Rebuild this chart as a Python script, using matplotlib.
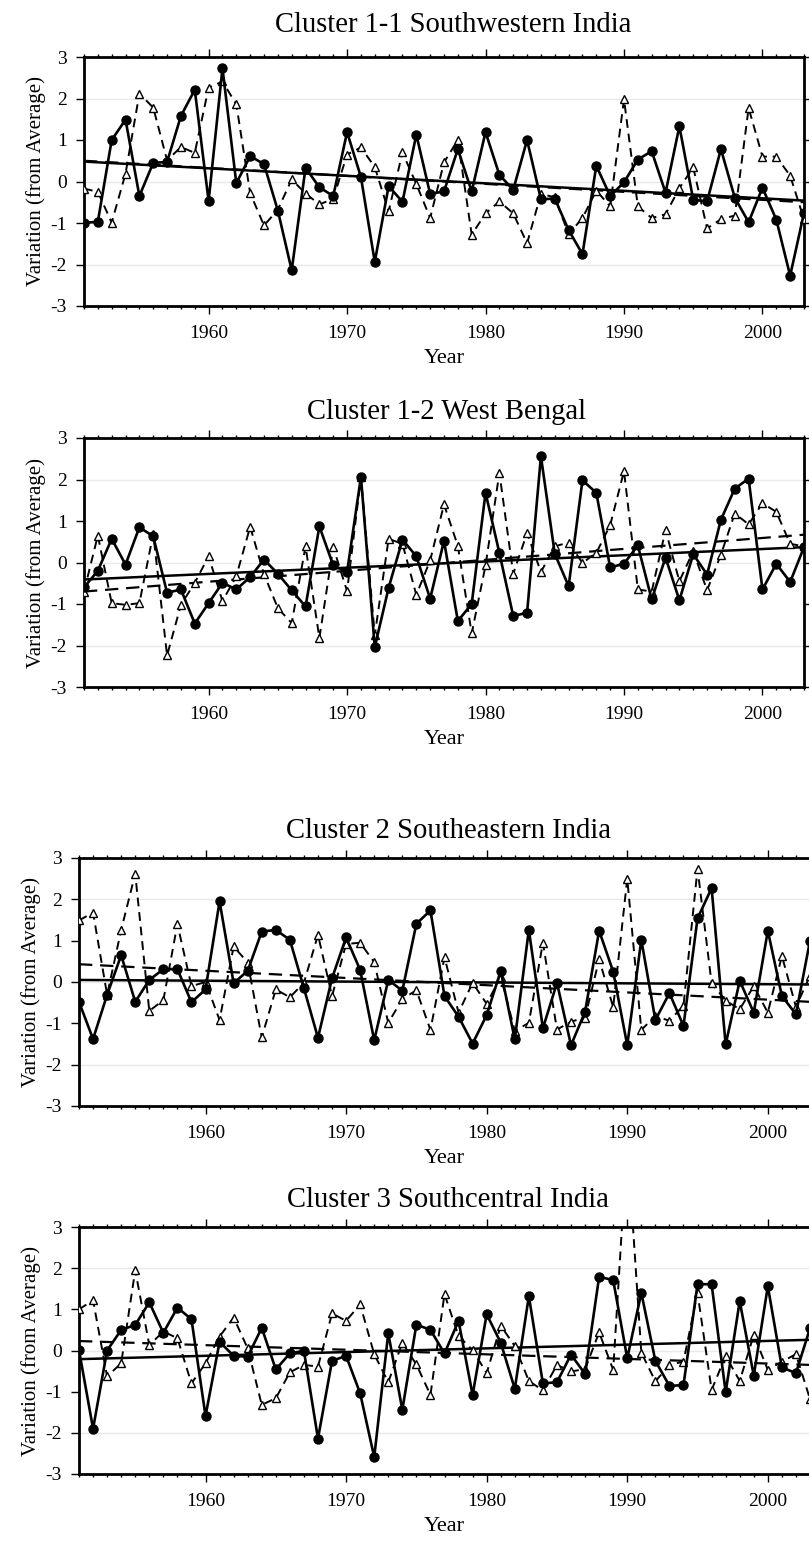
import numpy as np
import matplotlib
matplotlib.use('Agg')
import matplotlib.pyplot as plt
from matplotlib.ticker import MultipleLocator
plt.rcParams['font.family'] = 'Liberation Serif'
plt.rcParams['axes.unicode_minus'] = False

years = np.arange(1951, 2004)

titles = ["Cluster 1-1 Southwestern India",
          "Cluster 1-2 West Bengal",
          "Cluster 2 Southeastern India",
          "Cluster 3 Southcentral India"]

# solid series (filled circles)
c11_solid = [-1.0, -0.97, 1.0, 1.49, -0.35, 0.45, 0.47, 1.58, 2.21, -0.47,
             2.73, -0.04, 0.61, 0.42, -0.7, -2.14, 0.33, -0.14, -0.35, 1.19,
             0.11, -1.94, -0.11, -0.49, 1.13, -0.3, -0.24, 0.78, -0.24, 1.19,
             0.16, -0.2, 1.0, -0.43, -0.41, -1.17, -1.75, 0.38, -0.35, -0.02,
             0.53, 0.73, -0.27, 1.33, -0.44, -0.48, 0.78, -0.39, -0.98, -0.15,
             -0.92, -2.27, -0.76]
c12_solid = [-0.6, -0.2, 0.57, -0.05, 0.85, 0.63, -0.73, -0.65, -1.47, -0.98,
             -0.49, -0.65, -0.35, 0.07, -0.27, -0.67, -1.06, 0.87, -0.07, -0.23,
             2.06, -2.04, -0.61, 0.55, 0.15, -0.87, 0.52, -1.41, -1.0, 1.68,
             0.23, -1.29, -1.21, 2.56, 0.21, -0.57, 1.98, 1.68, -0.12, -0.03,
             0.41, -0.89, 0.12, -0.91, 0.2, -0.29, 1.03, 1.78, 2.02, -0.65,
             -0.03, -0.47, 0.37]
c2_solid = [-0.48, -1.38, -0.31, 0.65, -0.48, 0.05, 0.31, 0.31, -0.49, -0.18,
            1.95, -0.03, 0.27, 1.22, 1.26, 1.02, -0.15, -1.35, 0.09, 1.08,
            0.29, -1.41, 0.05, -0.21, 1.41, 1.73, -0.34, -0.84, -1.49, -0.8,
            0.27, -1.39, 1.26, -1.12, -0.02, -1.53, -0.72, 1.24, 0.25, -1.53,
            1.02, -0.92, -0.27, -1.06, 1.54, 2.27, -1.51, 0.03, -0.74, 1.24,
            -0.34, -0.78, 1.0]
c3_solid = [0.01, -1.9, 0.0, 0.5, 0.62, 1.17, 0.43, 1.04, 0.76, -1.59,
            0.21, -0.13, -0.15, 0.55, -0.46, -0.07, -0.01, -2.14, -0.25, -0.13,
            -1.04, -2.59, 0.42, -1.44, 0.63, 0.5, -0.07, 0.72, -1.08, 0.88,
            0.19, -0.93, 1.32, -0.8, -0.77, -0.1, -0.57, 1.79, 1.71, -0.19,
            1.4, -0.25, -0.86, -0.84, 1.61, 1.61, -1.01, 1.2, -0.61, 1.56,
            -0.41, -0.55, 0.54]

# dashed series (open triangles)
c11_dashed = [-0.17, -0.25, -0.99, 0.19, 2.12, 1.78, 0.51, 0.83, 0.69, 2.26,
              2.41, 1.86, -0.28, -1.06, -0.68, 0.05, -0.29, -0.55, -0.42, 0.65,
              0.82, 0.35, -0.72, 0.7, -0.06, -0.88, 0.46, 1.0, -1.28, -0.77,
              -0.48, -0.77, -1.49, -0.3, -0.38, -1.27, -0.88, -0.22, -0.6, 1.98,
              -0.6, -0.88, -0.79, -0.16, 0.34, -1.13, -0.91, -0.82, 1.77, 0.6,
              0.6, 0.14, -0.91]
c12_dashed = [-0.7, 0.65, -0.98, -1.02, -0.98, 0.69, -2.24, -1.02, -0.49, 0.15,
              -0.93, -0.33, 0.86, -0.28, -1.1, -1.46, 0.39, -1.82, 0.37, -0.69,
              2.06, -1.75, 0.57, 0.45, -0.78, 0.05, 1.4, 0.4, -1.71, -0.07,
              2.16, -0.27, 0.71, -0.23, 0.39, 0.48, -0.01, 0.23, 0.9, 2.2,
              -0.65, -0.7, 0.78, -0.45, 0.27, -0.67, 0.19, 1.18, 0.92, 1.43,
              1.22, 0.45, 0.39]
c2_dashed = [1.49, 1.68, -0.31, 1.26, 2.62, -0.7, -0.44, 1.4, -0.1, 0.0,
             -0.92, 0.86, 0.47, -1.34, -0.18, -0.37, -0.02, 1.14, -0.34, 0.92,
             0.95, 0.48, -0.99, -0.41, -0.2, -1.16, 0.6, -0.74, -0.02, -0.53,
             0.13, -1.18, -0.99, 0.95, -1.15, -0.96, -0.86, 0.55, -0.61, 2.5,
             -1.16, -0.82, -0.94, -0.57, 2.74, -0.03, -0.45, -0.66, -0.1, -0.74,
             0.63, -0.6, 0.15]
c3_dashed = [1.0, 1.22, -0.63, -0.31, 1.95, 0.13, 0.46, 0.3, -0.8, -0.31,
             0.34, 0.8, 0.05, -1.32, -1.16, -0.53, -0.35, -0.39, 0.9, 0.72,
             1.12, -0.09, -0.77, 0.19, -0.34, -1.08, 1.37, 0.35, 0.01, -0.55,
             0.6, 0.11, -0.74, -0.97, -0.35, -0.51, -0.45, 0.44, -0.47, 5.1,
             -0.05, -0.75, -0.35, -0.27, 1.4, -0.96, -0.13, -0.74, 0.38, -0.47,
             -0.27, -0.09, -1.18]

# linear trend values at 1951 and 2003
trend_solid = [[0.48, -0.46], [-0.41, 0.37], [0.05, -0.06], [-0.21, 0.26]]
trend_dashed = [[0.5, -0.5], [-0.7, 0.67], [0.43, -0.48], [0.23, -0.35]]

solids = [c11_solid, c12_solid, c2_solid, c3_solid]
dashes = [c11_dashed, c12_dashed, c2_dashed, c3_dashed]

W, H = 809, 1541
# axes boxes in pixels: left, right, top, bottom
boxes = [(84, 804, 57, 306), (84, 804, 438, 687),
         (79, 810, 858, 1106), (79, 810, 1227, 1474)]
title_pads = [18, 14, 14.5, 14.5]
title_x = [453, 447, 448, 448]

fig = plt.figure(figsize=(W / 100, H / 100), dpi=100)

for i in range(4):
    l, r, t, b = boxes[i]
    ax = fig.add_axes([l / W, 1 - b / H, (r - l) / W, (b - t) / H])

    for g in [-2, 0, 2]:
        ax.axhline(g, color='#e9e9e9', lw=1, zorder=0)

    ax.plot(years, dashes[i], color='black', lw=1.4, dashes=(4.5, 3),
            marker='^', markersize=6, markerfacecolor='white',
            markeredgecolor='black', markeredgewidth=1.0, zorder=3)
    ax.plot(years, solids[i], color='black', lw=1.9, marker='o',
            markersize=6.5, zorder=4)

    ax.plot([1951, 2003], trend_solid[i], color='black', lw=1.8, zorder=2)
    ax.plot([1951, 2003], trend_dashed[i], color='black', lw=1.6,
            dashes=(6, 3.5), zorder=2)

    ax.set_xlim(1951, 2003)
    ax.set_ylim(-3, 3)
    ax.xaxis.set_major_locator(MultipleLocator(10))
    ax.xaxis.set_minor_locator(MultipleLocator(1))
    ax.yaxis.set_major_locator(MultipleLocator(1))
    ax.tick_params(which='both', direction='out', top=True, right=True,
                   width=1, labelsize=14)
    ax.tick_params(which='major', length=5.5)
    ax.tick_params(which='minor', length=2.5)
    ax.tick_params(axis='x', pad=8)
    ax.tick_params(axis='y', pad=7)
    for s in ax.spines.values():
        s.set_linewidth(2)

    ax.set_xlabel("Year", fontsize=16, labelpad=5)
    ax.set_ylabel("Variation (from Average)", fontsize=15, labelpad=3)
    ax.set_title(titles[i], fontsize=20.6, pad=title_pads[i],
                 x=(title_x[i] - l) / (r - l))

plt.savefig('out.png', dpi=100)
